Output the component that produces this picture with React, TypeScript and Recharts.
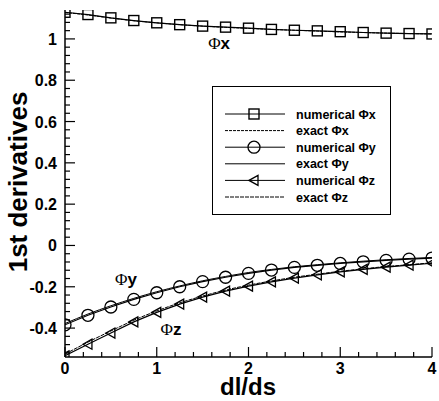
import React from 'react';
import { LineChart, Line, XAxis, YAxis, Legend, ReferenceDot } from 'recharts';

const xValues = [0, 0.25, 0.5, 0.75, 1, 1.25, 1.5, 1.75, 2, 2.25, 2.5, 2.75, 3, 3.25, 3.5, 3.75, 4];
const numericalPhiX = [1.129, 1.118, 1.102, 1.089, 1.078, 1.069, 1.062, 1.057, 1.052, 1.046, 1.042, 1.039, 1.035, 1.031, 1.028, 1.026, 1.024];
const exactPhiX = [1.128, 1.116, 1.101, 1.088, 1.078, 1.069, 1.062, 1.056, 1.051, 1.046, 1.042, 1.038, 1.034, 1.031, 1.028, 1.026, 1.024];
const numericalPhiY = [-0.384, -0.338, -0.298, -0.261, -0.229, -0.2, -0.175, -0.154, -0.135, -0.119, -0.106, -0.096, -0.087, -0.079, -0.072, -0.066, -0.061];
const exactPhiY = [-0.378, -0.332, -0.292, -0.256, -0.224, -0.196, -0.171, -0.15, -0.131, -0.116, -0.103, -0.093, -0.084, -0.076, -0.069, -0.063, -0.058];
const numericalPhiZ = [-0.534, -0.478, -0.424, -0.37, -0.324, -0.284, -0.25, -0.221, -0.197, -0.176, -0.158, -0.142, -0.128, -0.116, -0.105, -0.095, -0.086];
const exactPhiZ = [-0.526, -0.468, -0.414, -0.362, -0.317, -0.278, -0.245, -0.216, -0.192, -0.172, -0.154, -0.139, -0.125, -0.113, -0.102, -0.093, -0.084];

const xMajorTicks = [0, 1, 2, 3, 4];
const xTickLabels = ['0', '1', '2', '3', '4'];
const yMajorTicks = [-0.4, -0.2, 0, 0.2, 0.4, 0.6, 0.8, 1];
const yTickLabels = ['-0.4', '-0.2', '0', '0.2', '0.4', '0.6', '0.8', '1'];
const xAllTicks = Array.from({ length: 21 }, (_, i) => +(i * 0.2).toFixed(2));
const yAllTicks = Array.from({ length: 42 }, (_, i) => +(-0.52 + i * 0.04).toFixed(2));

const legendItems = [
  { name: 'numerical ', sub: 'x', marker: 'square', dash: undefined as string | undefined },
  { name: 'exact ', sub: 'x', marker: 'none', dash: '3 1' },
  { name: 'numerical ', sub: 'y', marker: 'circle', dash: undefined },
  { name: 'exact ', sub: 'y', marker: 'none', dash: undefined },
  { name: 'numerical ', sub: 'z', marker: 'triangle', dash: undefined },
  { name: 'exact ', sub: 'z', marker: 'none', dash: '4 1' },
];

const data = xValues.map((x, i) => ({
  x,
  nx: numericalPhiX[i],
  ex: exactPhiX[i],
  ny: numericalPhiY[i],
  ey: exactPhiY[i],
  nz: numericalPhiZ[i],
  ez: exactPhiZ[i],
}));

const SANS = '"Liberation Sans", Arial, Helvetica, sans-serif';
const SERIF = '"Liberation Serif", "Times New Roman", serif';

const marker = (kind: string, cx: number, cy: number, key?: string | number) => {
  if (kind === 'square') {
    return <rect key={key} x={cx - 5} y={cy - 5} width={10} height={10} fill="none" stroke="#000" strokeWidth={1.4} />;
  }
  if (kind === 'circle') {
    return <circle key={key} cx={cx} cy={cy} r={6} fill="none" stroke="#000" strokeWidth={1.3} />;
  }
  if (kind === 'triangle') {
    return (
      <path key={key} d={`M${cx - 5},${cy} L${cx + 4},${cy - 5} L${cx + 4},${cy + 5} Z`} fill="none" stroke="#000" strokeWidth={1.3} />
    );
  }
  return null;
};

const dotFn = (kind: string) => (props: any) => {
  const { cx, cy, index } = props;
  if (cx == null || cy == null) return <g key={`d-${kind}-${index}`} />;
  return marker(kind, cx, cy, `d-${kind}-${index}`);
};

const isMajor = (v: number, step: number) => Math.abs(v / step - Math.round(v / step)) < 1e-6;

const XTick = (props: any) => {
  const { x, y, payload } = props;
  const v = payload.value;
  const major = isMajor(v, 1);
  const idx = xMajorTicks.findIndex((t) => Math.abs(t - v) < 1e-6);
  return (
    <g>
      <line x1={x} x2={x} y1={y} y2={y - (major ? 10 : 5)} stroke="#000" strokeWidth={1.2} />
      {major && idx >= 0 && (
        <text x={x} y={y + 17} textAnchor="middle" fontSize={16} fontWeight="bold" fontFamily={SANS} fill="#000">
          {xTickLabels[idx]}
        </text>
      )}
    </g>
  );
};

const YTick = (props: any) => {
  const { x, y, payload } = props;
  const v = payload.value;
  const major = isMajor(v, 0.2);
  const idx = yMajorTicks.findIndex((t) => Math.abs(t - v) < 1e-6);
  return (
    <g>
      <line x1={x} x2={x + (major ? 10 : 5)} y1={y} y2={y} stroke="#000" strokeWidth={1.2} />
      {major && idx >= 0 && (
        <text x={x - 8} y={y + 6} textAnchor="end" fontSize={16} fontWeight="bold" fontFamily={SANS} fill="#000">
          {yTickLabels[idx]}
        </text>
      )}
    </g>
  );
};

const phiLabel = (sub: string) => (props: any) => {
  const vb = props.viewBox || {};
  const cx = (vb.x ?? 0) + (vb.width ?? 0) / 2;
  const cy = (vb.y ?? 0) + (vb.height ?? 0) / 2;
  return (
    <text x={cx} y={cy + 6} textAnchor="middle" fill="#000">
      <tspan fontFamily={SERIF} fontSize={17}>Φ</tspan>
      <tspan fontFamily={SANS} fontWeight="bold" fontSize={17}>{sub}</tspan>
    </text>
  );
};

const LegendBox = () => (
  <svg width={180} height={130} style={{ display: 'block' }}>
    <rect x={0.5} y={0.5} width={178} height={128} fill="#fff" stroke="#000" strokeWidth={1} />
    {legendItems.map((it, i) => {
      const y = 28 + i * 16.6;
      return (
        <g key={i}>
          <line x1={13} x2={73} y1={y} y2={y} stroke="#000" strokeWidth={1} strokeDasharray={it.dash} />
          {marker(it.marker, 42, y)}
          <text x={84} y={y + 4.5} fontFamily={SANS} fontWeight="bold" fontSize={12.5} fill="#000">
            {it.name}Φ{it.sub}
          </text>
        </g>
      );
    })}
  </svg>
);

export default function App() {
  return (
    <div style={{ position: 'absolute', left: 0, top: 0, background: '#fff' }}>
      <LineChart width={439} height={401} data={data} margin={{ top: 10, right: 7, bottom: 0, left: 0 }}>
        <XAxis
          dataKey="x"
          type="number"
          domain={[0, 4]}
          ticks={xAllTicks}
          interval={0}
          tick={<XTick />}
          tickSize={0}
          tickMargin={0}
          tickLine={false}
          height={44}
          axisLine={{ stroke: '#000', strokeWidth: 1.5 }}
          allowDataOverflow
          label={(p: any) => (
            <text x={248} y={395} textAnchor="middle" fontFamily={SANS} fontWeight="bold" fontSize={24} fill="#000">
              dl/ds
            </text>
          )}
        />
        <YAxis
          type="number"
          domain={[-0.54, 1.14]}
          ticks={yAllTicks}
          interval={0}
          tick={<YTick />}
          tickSize={0}
          tickMargin={0}
          tickLine={false}
          width={65}
          axisLine={{ stroke: '#000', strokeWidth: 1.5 }}
          allowDataOverflow
          label={(p: any) => (
            <text
              x={27}
              y={182}
              textAnchor="middle"
              transform="rotate(-90 27 182)"
              fontFamily={SANS}
              fontWeight="bold"
              fontSize={26}
              fill="#000"
            >
              1st derivatives
            </text>
          )}
        />
        <Line type="monotone" dataKey="ex" stroke="#000" strokeWidth={1} strokeDasharray="3 1" dot={false} isAnimationActive={false} />
        <Line type="monotone" dataKey="ey" stroke="#000" strokeWidth={1} dot={false} isAnimationActive={false} />
        <Line type="monotone" dataKey="ez" stroke="#000" strokeWidth={1} strokeDasharray="4 1" dot={false} isAnimationActive={false} />
        <Line type="linear" dataKey="nx" stroke="#000" strokeWidth={1.2} dot={dotFn('square')} isAnimationActive={false} />
        <Line type="linear" dataKey="ny" stroke="#000" strokeWidth={1.2} dot={dotFn('circle')} isAnimationActive={false} />
        <Line type="linear" dataKey="nz" stroke="#000" strokeWidth={1.2} dot={dotFn('triangle')} isAnimationActive={false} />
        <ReferenceDot x={1.68} y={0.978} r={0} fill="none" stroke="none" label={phiLabel('x')} />
        <ReferenceDot x={0.665} y={-0.163} r={0} fill="none" stroke="none" label={phiLabel('y')} />
        <ReferenceDot x={1.155} y={-0.405} r={0} fill="none" stroke="none" label={phiLabel('z')} />
        <Legend
          layout="vertical"
          align="center"
          verticalAlign="middle"
          content={() => <LegendBox />}
          wrapperStyle={{ position: 'absolute', left: 212, top: 86, width: 180, height: 130 }}
        />
      </LineChart>
    </div>
  );
}
